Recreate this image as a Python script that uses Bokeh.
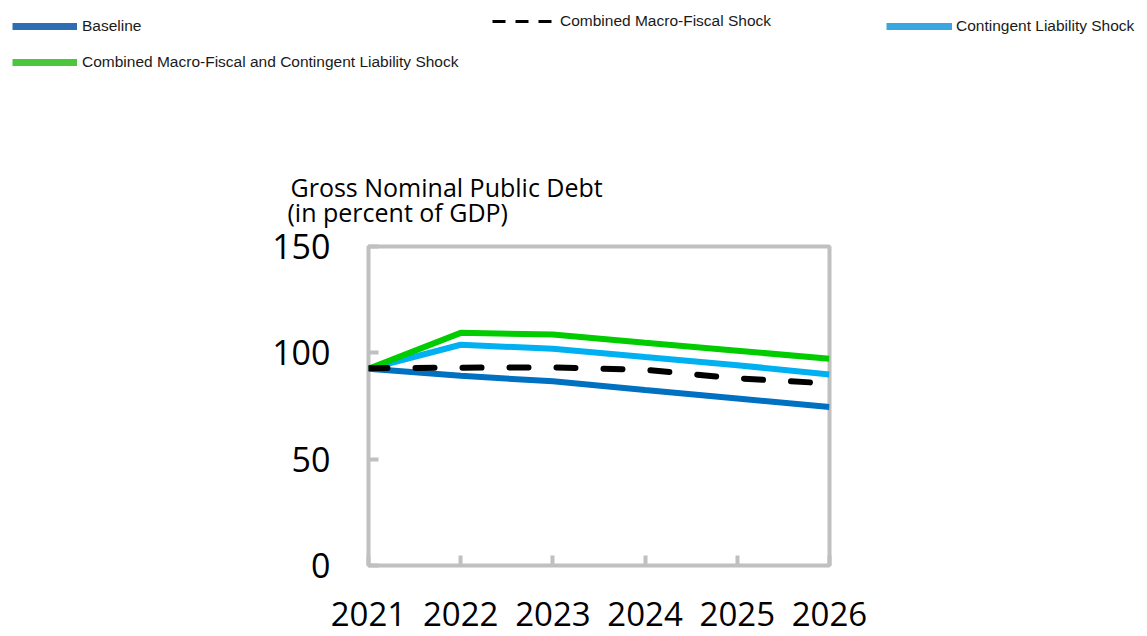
from bokeh.plotting import figure
from bokeh.models import Range1d, FixedTicker, Legend, LegendItem, Label
from bokeh.layouts import column, row
from bokeh.embed import file_html
from bokeh.resources import INLINE

years = [2021, 2022, 2023, 2024, 2025, 2026]
year_labels = ["2021", "2022", "2023", "2024", "2025", "2026"]
baseline = [92.5, 89.2, 86.6, 82.5, 78.5, 74.5]
macro_fiscal = [92.8, 93.0, 93.2, 92.0, 88.0, 85.6]
contingent = [92.5, 103.8, 101.9, 98.0, 94.2, 89.8]
combined = [92.5, 109.4, 108.6, 104.7, 101.0, 97.2]
y_ticks = [0, 50, 100, 150]

series_names = ["Baseline", "Combined Macro-Fiscal Shock", "Contingent Liability Shock",
                "Combined Macro-Fiscal and Contingent Liability Shock"]
title_lines = ["Gross Nominal Public Debt", "(in percent of GDP)"]

GRAY = "#c0c0c0"
TICK_FONT = "Open Sans"
LEG_FONT = "Liberation Sans"

TOP_H = 231

# ---------------- main chart ----------------
p = figure(width=1147, height=636 - TOP_H, output_backend="svg", toolbar_location=None,
           x_range=Range1d(2021, 2026), y_range=Range1d(0, 150),
           min_border_left=368, min_border_right=318, min_border_top=246 - TOP_H, min_border_bottom=71)
p.background_fill_color = "white"
p.border_fill_color = "white"
p.outline_line_color = GRAY
p.outline_line_width = 4
p.xgrid.visible = False
p.ygrid.visible = False

for ax in (p.xaxis[0], p.yaxis[0]):
    ax.axis_line_color = None
    ax.major_tick_line_color = GRAY
    ax.major_tick_line_width = 4
    ax.major_tick_in = 10
    ax.major_tick_out = 0
    ax.minor_tick_line_color = None
    ax.major_label_text_font = TICK_FONT
    ax.major_label_text_font_size = "34px"
    ax.major_label_text_color = "#000000"

p.xaxis[0].ticker = FixedTicker(ticks=years)
p.xaxis[0].major_label_overrides = {y: l for y, l in zip(years, year_labels)}
p.xaxis[0].major_label_text_font_size = "33px"
p.xaxis[0].major_label_standoff = 36
p.yaxis[0].ticker = FixedTicker(ticks=y_ticks)
p.yaxis[0].major_label_standoff = 38

c_base = "#0070C0"
c_cont = "#00B0F0"
c_comb = "#00CC00"

p.line(years, baseline, line_color=c_base, line_width=6)
p.line(years, contingent, line_color=c_cont, line_width=6)
p.line(years, combined, line_color=c_comb, line_width=6)
p.line(years, macro_fiscal, line_color="black", line_width=6, line_dash="19 28", line_cap="round")

# ---------------- header: legend + title ----------------
top = figure(width=1147, height=TOP_H, output_backend="svg", toolbar_location=None,
             x_range=Range1d(0, 1), y_range=Range1d(0, 1), x_axis_location=None, y_axis_location=None,
             min_border_left=0, min_border_right=0, min_border_top=0, min_border_bottom=0)
top.xgrid.visible = False
top.ygrid.visible = False
top.outline_line_color = None
top.background_fill_color = "white"
top.border_fill_color = "white"

# legend renderers: same series, but they fall outside this header's ranges (only their legend swatch shows)
lg_base = top.line(years, baseline, line_color="#2E6DB4", line_width=7)
lg_macro = top.line(years, macro_fiscal, line_color="black", line_width=3, line_dash="13 10")
lg_cont = top.line(years, contingent, line_color="#3AA8E0", line_width=7)
lg_comb = top.line(years, combined, line_color="#4CC63C", line_width=7)

def add_legend(name, rend, loc, gw, standoff):
    lg = Legend(items=[LegendItem(label=name, renderers=[rend])], location=loc,
                glyph_width=gw, glyph_height=16, label_height=16, label_standoff=standoff,
                padding=0, margin=0, spacing=0, border_line_color=None,
                background_fill_alpha=0, label_text_font=LEG_FONT,
                label_text_font_size="15.5px", label_text_color="#1a1a1a")
    top.add_layout(lg, "center")

add_legend(series_names[0], lg_base, (12, TOP_H - 35), 65, 5)
add_legend(series_names[1], lg_macro, (492, TOP_H - 30), 60, 8)
add_legend(series_names[2], lg_cont, (886, TOP_H - 35), 66, 4)
add_legend(series_names[3], lg_comb, (12, TOP_H - 71), 65, 5)

top.add_layout(Label(x=290, y=TOP_H - 186, x_units="screen", y_units="screen", text=title_lines[0],
                     text_font=TICK_FONT, text_font_size="25px", text_baseline="alphabetic",
                     text_color="black"))
top.add_layout(Label(x=287, y=TOP_H - 211, x_units="screen", y_units="screen", text=title_lines[1],
                     text_font=TICK_FONT, text_font_size="25px", text_baseline="alphabetic",
                     text_color="black"))

layout = column(row(top), row(p), spacing=0)
open("out.html", "w").write(file_html(layout, INLINE))
